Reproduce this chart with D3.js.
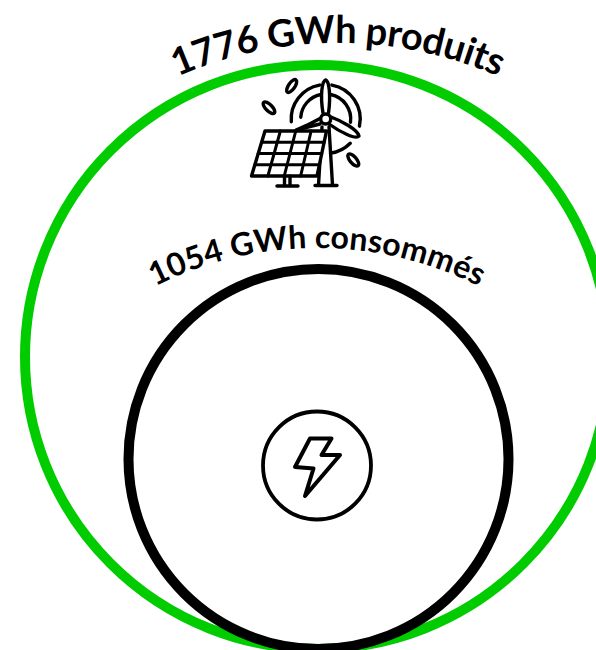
<!DOCTYPE html>
<html>
<head>
<meta charset="utf-8">
<script src="https://cdn.jsdelivr.net/npm/d3@7.9.0/dist/d3.min.js"></script>
<style>
  html, body { margin: 0; padding: 0; background: #fff; overflow: hidden; }
  svg { display: block; }
  text { font-family: Lato, "Open Sans", sans-serif; font-weight: 700; fill: #000; }
</style>
</head>
<body>
<svg id="chart" width="596" height="650"></svg>
<script>
// Values
const values = [1776, 1054];
const units  = ['GWh produits', 'GWh consommés'];
const colors = ['#00cc00', '#000000'];

const svg = d3.select('#chart');

// Circle radius from the value, both circles touch near the bottom
const radius = d3.scaleLinear().domain([1054, 1776]).range([190, 292]);
const bottomY = 649;
const centerX = d3.scaleOrdinal().domain(values).range([317, 318.5]);

// Circles
svg.selectAll('circle.val')
  .data(values)
  .join('circle')
  .attr('class', 'val')
  .attr('cx', d => centerX(d))
  .attr('cy', d => bottomY - radius(d))
  .attr('r', d => radius(d))
  .attr('fill', 'none')
  .attr('stroke', (d, i) => colors[i])
  .attr('stroke-width', 10);

// Curved labels
const labelStyle = [
  { cx: 338, cy: 443, r: 400, size: 38, len: 330 },
  { cx: 317, cy: 610, r: 362, size: 32, len: 336 }
];
const defs = svg.append('defs');
values.forEach((v, i) => {
  const s = labelStyle[i];
  const p = d3.path();
  p.arc(s.cx, s.cy, s.r, -Math.PI * 0.85, -Math.PI * 0.15);
  defs.append('path').attr('id', 'arc' + i).attr('d', p.toString());
  svg.append('text')
    .attr('font-size', s.size)
    .attr('text-anchor', 'middle')
    .append('textPath')
    .attr('href', '#arc' + i)
    .attr('startOffset', '50%')
    .attr('textLength', s.len)
    .text(`${v} ${units[i]}`);
});

// Turbine + solar panel icon
const icon = svg.append('g')
  .attr('fill', 'none')
  .attr('stroke', '#000')
  .attr('stroke-width', 3.4)
  .attr('stroke-linejoin', 'round')
  .attr('stroke-linecap', 'round');

const hub = [325.7, 119];
const ring = d3.arc();
[[25, [[0.2, 1.7], [-1.5, -0.2]]],
 [34.5, [[0.18, 1.78], [2.35, 3.0], [-1.65, -0.18]]]].forEach(([r, parts]) => {
  parts.forEach(([a0, a1]) => {
    icon.append('path')
      .attr('transform', `translate(${hub})`)
      .attr('d', ring({ innerRadius: r, outerRadius: r, startAngle: a0, endAngle: a1 }));
  });
});

// Tower
icon.append('path').attr('d', 'M322 127 L318.5 185 M329 127 L332.5 185 M315 185.5 H337');
// Blades
icon.append('path').attr('fill', '#fff').attr('d', 'M323 113 C320 95 322 81 325.7 80 C329 81 331 95 328.5 113');
icon.append('path').attr('fill', '#fff').attr('d', 'M331 117 C342 121 358 130 359 136 C356 140 340 132 329 124');
icon.append('path').attr('fill', '#fff').attr('d', 'M321 118 C314 122 306 126 296 130 L320 124');
icon.append('circle').attr('cx', hub[0]).attr('cy', hub[1]).attr('r', 5).attr('fill', '#fff');

// Solar panel
const tl = [265, 131], tr = [326.5, 131], br = [317, 176], bl = [251.5, 176];
const mix = (a, b, t) => [a[0] + (b[0] - a[0]) * t, a[1] + (b[1] - a[1]) * t];
icon.append('path').attr('fill', '#fff')
  .attr('d', `M${tl} L${tr} L${br} L${bl} Z`);
const gridLine = d3.line();
d3.range(1, 4).forEach(k => {
  icon.append('path').attr('stroke-width', 3).attr('d', gridLine([mix(tl, bl, k / 4), mix(tr, br, k / 4)]));
  icon.append('path').attr('stroke-width', 3).attr('d', gridLine([mix(tl, tr, k / 4), mix(bl, br, k / 4)]));
});
// Panel stand
icon.append('path').attr('d', 'M284.5 176 V186 M290 176 V186 M277 186 H298');

// Leaves
[[291.7, 86, 35], [269, 107.7, -45], [353.3, 160, -40]].forEach(([x, y, a]) => {
  icon.append('ellipse')
    .attr('transform', `translate(${x},${y}) rotate(${a})`)
    .attr('rx', 3.2).attr('ry', 7.5);
});

// Lightning icon
const bolt = svg.append('g')
  .attr('fill', 'none')
  .attr('stroke', '#000')
  .attr('stroke-linejoin', 'round')
  .attr('stroke-linecap', 'round');
bolt.append('circle').attr('cx', 317).attr('cy', 465.5).attr('r', 54).attr('stroke-width', 3.8);
bolt.append('path').attr('stroke-width', 4)
  .attr('d', 'M310 438.5 H331.5 L321.5 455 H340 L305 496 L313.5 468.5 L295 467 Z');
</script>
</body>
</html>
